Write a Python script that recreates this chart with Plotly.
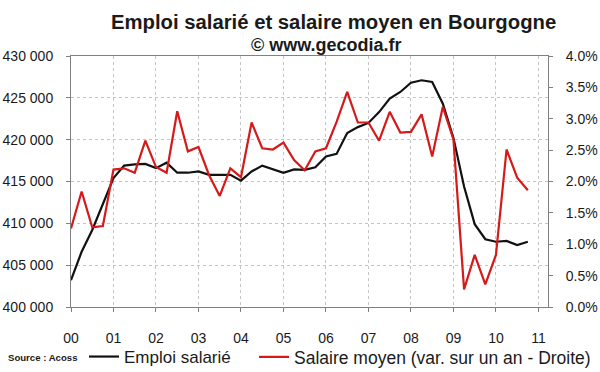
import plotly.graph_objects as go

# Quarterly data, 2000 Q1 -> 2010 Q4 (index 0..43)
emploi = [403200, 406600, 409200, 412200, 415400, 416900, 417050, 417100,
          416600, 417250, 416050, 416050, 416200, 415800, 415800, 415800,
          415100, 416200, 416900, 416500, 416050, 416450, 416400, 416700,
          418000, 418300, 420800, 421500, 422000, 423300, 424900, 425700,
          426800, 427100, 426900, 424300, 420200, 414400, 409900, 408100,
          407800, 407900, 407400, 407800]
salaire = [1.25, 1.84, 1.27, 1.29, 2.19, 2.21, 2.14, 2.65,
           2.23, 2.14, 3.12, 2.48, 2.55, 2.10, 1.77, 2.21,
           2.07, 2.94, 2.53, 2.51, 2.62, 2.34, 2.18, 2.48,
           2.53, 2.95, 3.43, 2.94, 2.94, 2.65, 3.11, 2.78,
           2.79, 3.07, 2.40, 3.19, 2.67, 0.28, 0.83, 0.36,
           0.83, 2.51, 2.06, 1.86]
quarters = list(range(len(emploi)))
year_ticks = [0, 4, 8, 12, 16, 20, 24, 28, 32, 36, 40, 44]
year_labels = ["00", "01", "02", "03", "04", "05", "06", "07", "08", "09", "10", "11"]
left_ticks = [400000, 405000, 410000, 415000, 420000, 425000, 430000]
left_labels = ["400 000", "405 000", "410 000", "415 000", "420 000", "425 000", "430 000"]
right_ticks = [0, 0.5, 1.0, 1.5, 2.0, 2.5, 3.0, 3.5, 4.0]
right_labels = ["0.0%", "0.5%", "1.0%", "1.5%", "2.0%", "2.5%", "3.0%", "3.5%", "4.0%"]

FONT = "Liberation Sans, Arial, sans-serif"
TXT = "#1a1a1a"
AX = "#808080"
GRID = "#c4c4c4"
W, H = 600, 372
L, R, T, B = 71, 52, 56, 65
pw, ph = W - L - R, H - T - B
XR = [0, 44.9]
YL = [400000, 430000]
YR = [0, 4]

def px_x(p):
    return (p - L) / pw

def px_y(p):
    return (H - B - p) / ph

fig = go.Figure()
fig.add_trace(go.Scatter(x=quarters, y=emploi, mode="lines", name="Emploi salarié",
                         line=dict(color="#111111", width=2.2), yaxis="y", legend="legend"))
fig.add_trace(go.Scatter(x=quarters, y=salaire, mode="lines",
                         name="Salaire moyen (var. sur un an - Droite)",
                         line=dict(color="#d41a1a", width=2.2), yaxis="y2", legend="legend2"))

common_tick = dict(tickfont=dict(family=FONT, size=14, color=TXT), automargin=False)

fig.update_layout(
    width=W, height=H,
    margin=dict(l=L, r=R, t=T, b=B, autoexpand=False),
    paper_bgcolor="white", plot_bgcolor="white",
    showlegend=True,
    xaxis=dict(range=XR, tickmode="array", tickvals=year_ticks, ticktext=year_labels,
               ticks="outside", ticklen=4, tickcolor=AX, showline=True, linecolor=AX,
               linewidth=1, mirror=True, showgrid=True, gridcolor=GRID, griddash="dot",
               gridwidth=1, zeroline=False, ticklabelstandoff=14, **common_tick),
    xaxis2=dict(range=XR, overlaying="x", tickmode="array", tickvals=year_ticks,
                ticktext=[""] * len(year_ticks), ticks="inside", ticklen=4, tickcolor=AX,
                showline=False, showgrid=False, zeroline=False, showticklabels=False,
                anchor="y", automargin=False),
    yaxis=dict(range=YL, tickmode="array", tickvals=left_ticks, ticktext=left_labels,
               ticks="outside", ticklen=4, tickcolor=AX, showline=True, linecolor=AX,
               linewidth=1, showgrid=True, gridcolor=GRID, griddash="dot", gridwidth=1,
               zeroline=False, ticklabelstandoff=10, **common_tick),
    yaxis2=dict(range=YR, overlaying="y", side="right", tickmode="array",
                tickvals=right_ticks, ticktext=right_labels, ticks="outside", ticklen=4,
                tickcolor=AX, showline=True, linecolor=AX, linewidth=1, showgrid=False,
                zeroline=False, ticklabelstandoff=10, **common_tick),
    yaxis3=dict(range=YL, overlaying="y", side="left", tickmode="array",
                tickvals=left_ticks, ticks="inside", ticklen=4, tickcolor=AX,
                showticklabels=False, showgrid=False, zeroline=False, showline=False,
                automargin=False),
    yaxis4=dict(range=YR, overlaying="y", side="right", tickmode="array",
                tickvals=right_ticks, ticks="inside", ticklen=4, tickcolor=AX,
                showticklabels=False, showgrid=False, zeroline=False, showline=False,
                automargin=False),
    legend=dict(orientation="h", x=px_x(84), y=px_y(357), xanchor="left", yanchor="middle",
                font=dict(family=FONT, size=17, color=TXT), itemwidth=30,
                bgcolor="rgba(0,0,0,0)", tracegroupgap=0),
    legend2=dict(orientation="h", x=px_x(254), y=px_y(357), xanchor="left", yanchor="middle",
                 font=dict(family=FONT, size=17.5, color=TXT), itemwidth=30,
                 bgcolor="rgba(0,0,0,0)", tracegroupgap=0),
    annotations=[
        dict(text="<b>Emploi salarié et salaire moyen en Bourgogne</b>", xref="paper",
             yref="paper", x=px_x(333), y=px_y(22), xanchor="center", yanchor="middle",
             showarrow=False, font=dict(family=FONT, size=20.3, color=TXT)),
        dict(text="<b>© www.gecodia.fr</b>", xref="paper", yref="paper",
             x=px_x(326), y=px_y(45), xanchor="center", yanchor="middle",
             showarrow=False, font=dict(family=FONT, size=18, color=TXT)),
        dict(text="<b>Source : Acoss</b>", xref="paper", yref="paper",
             x=px_x(6), y=px_y(357), xanchor="left", yanchor="middle",
             showarrow=False, font=dict(family=FONT, size=9.6, color=TXT)),
    ],
)

fig.write_html("out.html", config={"displayModeBar": False},
               post_script="document.body.style.margin='0';"
                           "document.body.style.padding='0';")
